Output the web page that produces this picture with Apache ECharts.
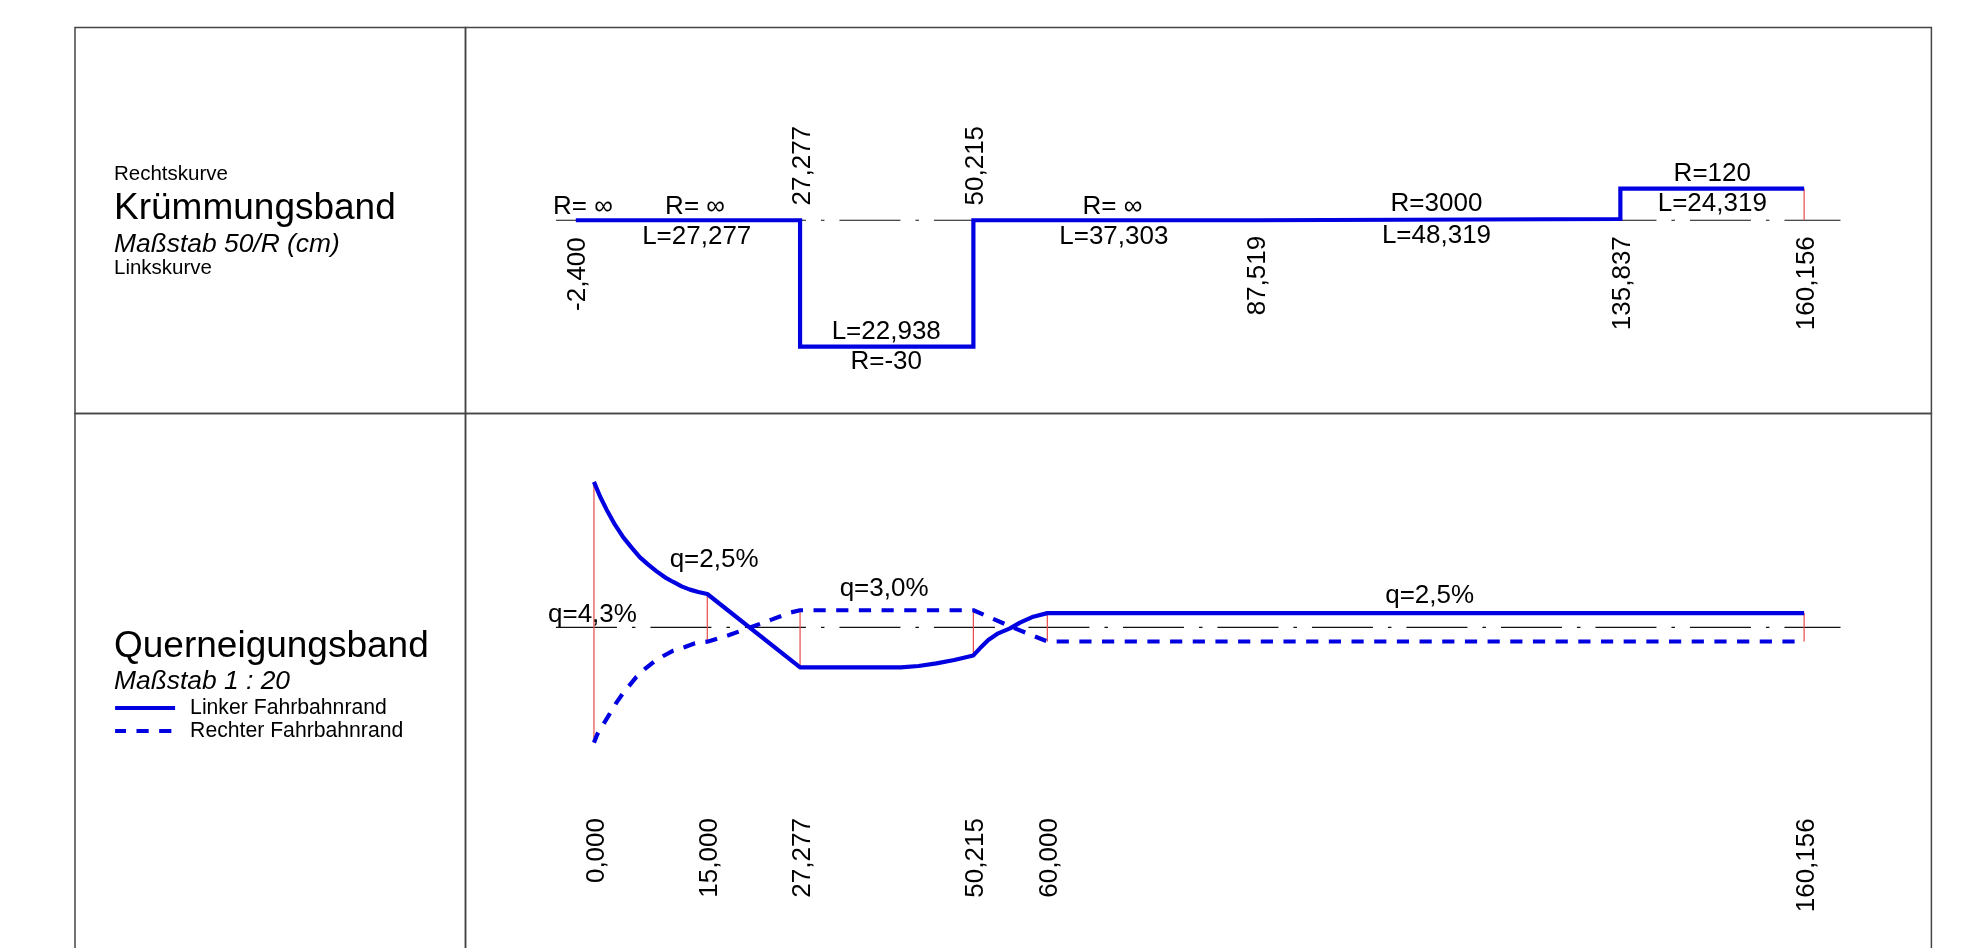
<!DOCTYPE html>
<html><head><meta charset="utf-8">
<style>html,body{margin:0;padding:0;background:#fff}#c{width:1965px;height:948px}</style>
<script src="https://cdn.jsdelivr.net/npm/echarts@6/dist/echarts.min.js"></script>
</head><body><div id="c"></div>
<script>
// Krümmungsband: station (x) and 50/R in cm (y)
const curvX = [-2.4, 27.277, 27.277, 50.215, 50.215, 87.519, 87.519, 135.837, 135.837, 160.156];
const curvY = [0, 0, -1.667, -1.667, 0, 0, 0.0167, 0.0167, 0.4167, 0.4167];
// Querneigungsband: left and right carriageway edge
const leftX = [0, 0.794, 1.676, 2.779, 3.882, 4.985, 6.088, 7.19, 8.294, 9.397, 10.5, 11.6, 12.705, 13.81, 15, 27.277, 40.6, 42.96, 45.32, 47.68, 50.215, 51.08, 52.19, 53.5, 55.06, 56.38, 58.14, 60, 160.156];
const leftY = [25.6, 23.07, 20.71, 18.07, 15.84, 14.02, 12.32, 11.03, 9.85, 8.8, 7.98, 7.21, 6.63, 6.22, 5.86, -7.04, -7.04, -6.81, -6.34, -5.76, -4.95, -3.7, -2.24, -1.06, -0.18, 0.82, 1.87, 2.5, 2.5];
const rightX = [0, 0.44, 1.456, 2.118, 2.912, 3.75, 4.676, 5.647, 6.75, 7.94, 9.176, 10.5, 12.04, 13.37, 15, 17.9, 20.74, 23.58, 25.94, 27.277, 50.215, 55.72, 60, 160.156];
const rightY = [-20.3, -18.84, -16.61, -15.15, -13.39, -11.8, -10.28, -8.69, -7.34, -6.05, -5.05, -4.11, -3.47, -2.82, -2.53, -1.36, 0, 1.4, 2.58, 3.0, 3.0, -0.18, -2.5, -2.5];
// Red station ticks in the lower band
const tickX = [0, 15, 27.277, 50.215, 60, 160.156];
const tickTop = [25.6, 5.86, 3.0, 3.0, 2.5, 2.5];
const tickBottom = [-20.3, -2.53, -7.04, -4.95, -2.5, -2.5];
// Text
const curvRadiusText = ['R= ∞', 'R= ∞', 'R=-30', 'R= ∞', 'R=3000', 'R=120'];
const curvLengthText = ['L=27,277', 'L=22,938', 'L=37,303', 'L=48,319', 'L=24,319'];
const curvStationText = ['-2,400', '27,277', '50,215', '87,519', '135,837', '160,156'];
const slopeText = ['q=4,3%', 'q=2,5%', 'q=3,0%', 'q=2,5%'];
const slopeStationText = ['0,000', '15,000', '27,277', '50,215', '60,000', '160,156'];
const legendNames = ['Linker Fahrbahnrand', 'Rechter Fahrbahnrand'];

// Label anchors, in each band's data units
const anchorRadiusX = [-1.46, 13.37, 38.68, 68.61, 111.5, 148];
const anchorRadiusY = [0.18, 0.18, -1.87, 0.18, 0.215, 0.61];
const anchorLengthX = [13.6, 38.68, 68.8, 111.5, 148];
const anchorLengthY = [-0.22, -1.47, -0.22, -0.205, 0.215];
const anchorStationX = [-2.4, 27.277, 50.215, 87.519, 135.837, 160.156];
const anchorStationY = [-0.71, 0.72, 0.72, -0.73, -0.83, -0.83];
const anchorSlopeX = [-0.2, 15.9, 38.4, 110.6];
const anchorSlopeY = [2.2, 11.9, 6.7, 5.5];
const anchorSlopeStationY = [-39.3, -40.6, -40.6, -40.6, -40.6, -41.9];

const BLUE = '#0000e0', RED = '#e84a4a', AXIS = '#111';
const FONT = '"Liberation Sans"';
const zip = (a, b) => a.map((v, i) => [v, b[i]]);

function textSeries(xi, yi, texts, xs, ys, rotate) {
  return {
    type: 'scatter', xAxisIndex: xi, yAxisIndex: yi, symbolSize: 1, z: 6, silent: true,
    itemStyle: { color: 'transparent', opacity: 1 },
    data: texts.map((t, i) => ({ value: [xs[i], ys[i]], name: t })),
    label: { show: true, position: 'inside', formatter: p => p.name, rotate: rotate || 0,
      offset: rotate ? [0, 2.5] : [0, 0], color: '#000', fontFamily: FONT, fontSize: 26 }
  };
}
function centre(xi, yi) {
  return { type: 'line', xAxisIndex: xi, yAxisIndex: yi, symbol: 'none', z: 1, silent: true,
    data: [[-5.03, 0], [164.97, 0]],
    lineStyle: { color: AXIS, width: 1.2, type: [61, 15, 3.5, 15] } };
}
const tick = (xi, yi, x, a, b) => ({ type: 'line', xAxisIndex: xi, yAxisIndex: yi, symbol: 'none', z: 2, silent: true,
  data: [[x, a], [x, b]], lineStyle: { color: RED, width: 1.2 } });

const series = [
  centre(1, 1),
  { type: 'line', name: 'Kruemmung', xAxisIndex: 1, yAxisIndex: 1, symbol: 'none', z: 3, silent: true,
    data: zip(curvX, curvY), lineStyle: { color: BLUE, width: 4.2, join: 'miter' } },
  tick(1, 1, 160.156, 0.4167, 0),
  centre(3, 3),
  ...tickX.map((x, i) => tick(3, 3, x, tickTop[i], tickBottom[i])),
  { type: 'line', name: legendNames[0], xAxisIndex: 3, yAxisIndex: 3, symbol: 'none', z: 3, silent: true,
    data: zip(leftX, leftY), itemStyle: { color: BLUE }, lineStyle: { color: BLUE, width: 4.2 } },
  { type: 'line', name: legendNames[1], xAxisIndex: 3, yAxisIndex: 3, symbol: 'none', z: 3, silent: true,
    data: zip(rightX, rightY), itemStyle: { color: BLUE },
    lineStyle: { color: BLUE, width: 4.2, type: [12.2, 10.48], dashOffset: 1.3 } },
  textSeries(1, 1, curvRadiusText, anchorRadiusX, anchorRadiusY),
  textSeries(1, 1, curvLengthText, anchorLengthX, anchorLengthY),
  textSeries(1, 1, curvStationText, anchorStationX, anchorStationY, 90),
  textSeries(3, 3, slopeText, anchorSlopeX, anchorSlopeY),
  textSeries(3, 3, slopeStationText, tickX, anchorSlopeStationY, 90)
];

const frame = { show: true, borderColor: '#444', borderWidth: 1.5, backgroundColor: 'transparent', outerBoundsMode: 'none' };
const hiddenX = i => ({ type: 'value', gridIndex: i, show: false, min: -17, max: 177, splitLine: { show: false } });
const hiddenY = (i, a, b) => ({ type: 'value', gridIndex: i, show: false, min: a, max: b, splitLine: { show: false } });
const sideText = (text, y, size, italic) => ({ type: 'text', left: 114, top: y, silent: true,
  style: { text, fontFamily: FONT, fontSize: size, fontStyle: italic ? 'italic' : 'normal', fill: '#000' } });

echarts.init(document.getElementById('c'), null, { renderer: 'canvas', width: 1965, height: 948 }).setOption({
  animation: false,
  backgroundColor: '#fff',
  grid: [
    { ...frame, left: 75, top: 27.5, width: 390.5, height: 386 },
    { ...frame, left: 465.5, top: 27.5, width: 1465.9, height: 386 },
    { ...frame, left: 75, top: 413.5, width: 390.5, height: 547 },
    { ...frame, left: 465.5, top: 413.5, width: 1465.9, height: 547 }
  ],
  xAxis: [hiddenX(0), hiddenX(1), hiddenX(2), hiddenX(3)],
  yAxis: [hiddenY(0, -1, 1), hiddenY(1, -2.5495, 2.543), hiddenY(2, -1, 1), hiddenY(3, -58.66, 37.64)],
  legend: { data: legendNames, orient: 'vertical', left: 113, top: 697.5, padding: 0, itemWidth: 60, itemHeight: 14, itemGap: 2,
    selectedMode: false, itemStyle: { opacity: 0 }, lineStyle: { width: 4.2 },
    textStyle: { fontFamily: FONT, fontSize: 21.2, color: '#000', padding: [0, 0, 0, 10] } },
  graphic: [
    sideText('Rechtskurve', 164, 20.5),
    sideText('Krümmungsband', 190, 37),
    sideText('Maßstab 50/R (cm)', 232, 26.4, true),
    sideText('Linkskurve', 258, 20.5),
    sideText('Querneigungsband', 628, 37),
    sideText('Maßstab 1 : 20', 669, 26.4, true)
  ],
  series
});
</script></body></html>
